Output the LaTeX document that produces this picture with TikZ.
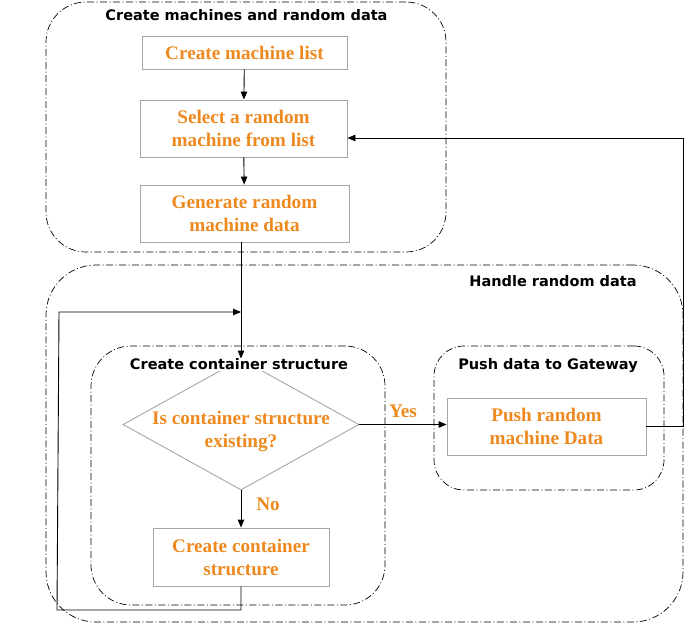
\documentclass[tikz,border=0pt]{standalone}
\usepackage{fontspec}
\setmainfont{Liberation Serif}
\newfontfamily\titlefont{DejaVu Sans}
\usetikzlibrary{shapes.geometric,arrows.meta}
\definecolor{org}{RGB}{237,137,30}
\definecolor{boxgray}{RGB}{166,166,166}
\tikzset{
  container/.style={draw=black, line width=0.7pt, dash pattern=on 7pt off 2.5pt on 1pt off 2.5pt, inner sep=0pt},
  ttl/.style={font=\titlefont\bfseries\fontsize{14.5}{17}\selectfont, inner sep=1pt},
  stepbox/.style={draw=boxgray, line width=0.9pt, inner sep=0pt, font=\bfseries\fontsize{19.2}{23}\selectfont, text=org, align=center},
  lbl/.style={font=\bfseries\fontsize{19.2}{23}\selectfont, text=org, inner sep=0pt},
  arr/.style={draw=black, line width=0.9pt, -{Triangle[length=8pt,width=6.5pt]}},
  ln/.style={draw=black, line width=0.9pt},
}
\begin{document}
\begin{tikzpicture}[x=1pt,y=-1pt]
\useasboundingbox (0,0) rectangle (698,624);
% containers
\node[container, rounded corners=40pt, minimum width=400pt, minimum height=250pt] (c1) at (246,127) {};
\node[container, rounded corners=50pt, minimum width=637pt, minimum height=357pt] (c2) at (364.5,443.5) {};
\node[container, rounded corners=40pt, minimum width=294pt, minimum height=259pt] (c3) at (238,475.5) {};
\node[container, rounded corners=30pt, minimum width=230pt, minimum height=144pt] (c4) at (549,418) {};
% steps
\node[stepbox, minimum width=205pt, minimum height=33pt] (b1) at (244.5,52.5) {Create machine list};
\node[stepbox, minimum width=207pt, minimum height=57pt] (b2) at (243.5,128.5) {Select a random\\machine from list};
\node[stepbox, minimum width=209pt, minimum height=57pt] (b3) at (244.5,213.5) {Generate random\\machine data};
\node[draw=boxgray, line width=0.9pt, shape=diamond, inner sep=0pt, minimum width=236pt, minimum height=131pt] (dia) at (241,424.5) {};
\node[lbl, align=center] (diat) at (241,431.5) {Is container structure\\existing?};
\node[stepbox, minimum width=176pt, minimum height=58pt] (cs) at (241,557) {Create container\\structure};
\node[stepbox, minimum width=199pt, minimum height=57pt] (push) at (546.5,426.5) {Push random\\machine Data};
% titles
\node[ttl] (t1) at (246.5,15) {Create machines and random data};
\node[ttl] (t2) at (553,281) {Handle random data};
\node[ttl, fill=white] (t3) at (239,364.5) {Create container structure};
\node[ttl] (t4) at (548,366) {Push data to Gateway};
% labels
\node[lbl] (yes) at (403,411) {Yes};
\node[lbl] (no) at (268,504) {No};
% coordinates
\coordinate (fbR) at (683,138);
\coordinate (loopBL) at (57,610);
\coordinate (loopTL) at (59,312);
% connectors
\draw[arr] (b1) -- (b2);
\draw[arr] (b2) -- (b3);
\draw[arr] (b3.south -| dia.north) -- (dia.north);
\draw[arr] (dia.south) -- (cs.north);
\draw[arr] (dia.east) -- (dia.east -| push.west);
\draw[arr] (push.east) -- (push.east -| fbR) -- (fbR) -- (fbR -| b2.east);
\draw[arr] (cs.south) -- (cs.south |- loopBL) -- (loopBL) -- (loopTL) -- (loopTL -| dia.north);
\node[ttl, fill=white] at (t3) {Create container structure};
\end{tikzpicture}
\end{document}
